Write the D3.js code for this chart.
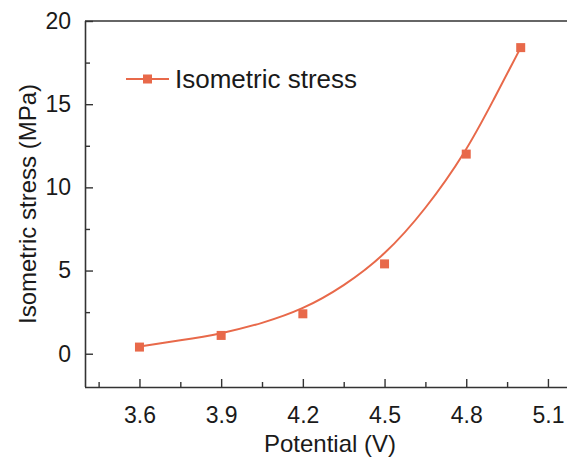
<!DOCTYPE html>
<html><head><meta charset="utf-8">
<script src="https://cdn.jsdelivr.net/npm/d3@7"></script>
<style>body{margin:0;background:#fff}svg{display:block}text{font-family:"Liberation Sans",Arial,sans-serif;fill:#1a1a1a}</style>
</head><body><svg id="c" width="567" height="460"></svg>
<script>
const potential = [3.6, 3.9, 4.2, 4.5, 4.8, 5.0];
const stress = [0.4, 1.1, 2.4, 5.4, 12.0, 18.4];
// fitted curve
const fitX = [3.6, 3.75, 3.9, 4.05, 4.2, 4.35, 4.5, 4.65, 4.8, 4.9, 5.0];
const fitY = [0.44, 0.8, 1.2, 1.82, 2.66, 4.05, 5.9, 8.65, 12.15, 15.25, 18.4];
const xTicks = [3.6, 3.9, 4.2, 4.5, 4.8, 5.1];
const yTicks = [0, 5, 10, 15, 20];
const seriesName = "Isometric stress";
const color = "#E8694A";

const svg = d3.select("#c");
const L = 85, R = 567, T = 21, B = 387;
const x = d3.scaleLinear().domain([3.4, 5.17]).range([L, R]);
const y = d3.scaleLinear().domain([-2, 20]).range([B, T]);

const axisColor = "#333";
const gx = svg.append("g").attr("transform", `translate(0,${B})`)
  .call(d3.axisBottom(x).tickValues(xTicks).tickSize(-8).tickPadding(20).tickFormat(d3.format(".1f")));
const xMinor = [3.45, 3.75, 4.05, 4.35, 4.65, 4.95];
svg.append("g").attr("transform", `translate(0,${B})`)
  .call(d3.axisBottom(x).tickValues(xMinor).tickSize(-5).tickFormat(""))
  .select(".domain").remove();
const gy = svg.append("g").attr("transform", `translate(${L},0)`)
  .call(d3.axisLeft(y).tickValues(yTicks).tickSize(-8).tickPadding(14));
const yMinor = [2.5, 7.5, 12.5, 17.5];
svg.append("g").attr("transform", `translate(${L},0)`)
  .call(d3.axisLeft(y).tickValues(yMinor).tickSize(-5).tickFormat(""))
  .select(".domain").remove();

svg.selectAll(".domain").attr("stroke", axisColor).attr("stroke-width", 1.6);
svg.selectAll(".tick line").attr("stroke", axisColor).attr("stroke-width", 1.4);
svg.selectAll(".tick text").style("font-size", "23px").attr("fill", "#1a1a1a");
gx.select(".domain").attr("d", `M${L},0.5H${R}`);
gy.select(".domain").attr("d", `M0.5,${B}V${T}`);
svg.append("line").attr("x1", L).attr("x2", R).attr("y1", T).attr("y2", T)
  .attr("stroke", axisColor).attr("stroke-width", 1.6);

svg.append("text").attr("x", 330).attr("y", 452).attr("text-anchor", "middle")
  .style("font-size", "24px").text("Potential (V)");
svg.append("text").attr("transform", `translate(36,204) rotate(-90)`).attr("text-anchor", "middle")
  .style("font-size", "24px").text("Isometric stress (MPa)");

const fit = fitX.map((v, i) => [v, fitY[i]]);
svg.append("path").datum(fit)
  .attr("d", d3.line().x(d => x(d[0])).y(d => y(d[1])).curve(d3.curveBasis))
  .attr("fill", "none").attr("stroke", color).attr("stroke-width", 2);

const ms = 9;
svg.selectAll("rect.pt").data(potential.map((v, i) => [v, stress[i]])).join("rect")
  .attr("class", "pt").attr("x", d => x(d[0]) - ms / 2).attr("y", d => y(d[1]) - ms / 2)
  .attr("width", ms).attr("height", ms).attr("fill", color);

const lg = svg.append("g").attr("transform", "translate(126,79)");
lg.append("line").attr("x1", 0).attr("x2", 43).attr("stroke", color).attr("stroke-width", 2);
lg.append("rect").attr("x", 21.5 - ms / 2).attr("y", -ms / 2).attr("width", ms).attr("height", ms).attr("fill", color);
lg.append("text").attr("x", 49).attr("y", 0).attr("dy", "0.35em").style("font-size", "26px").text(seriesName);
</script></body></html>
